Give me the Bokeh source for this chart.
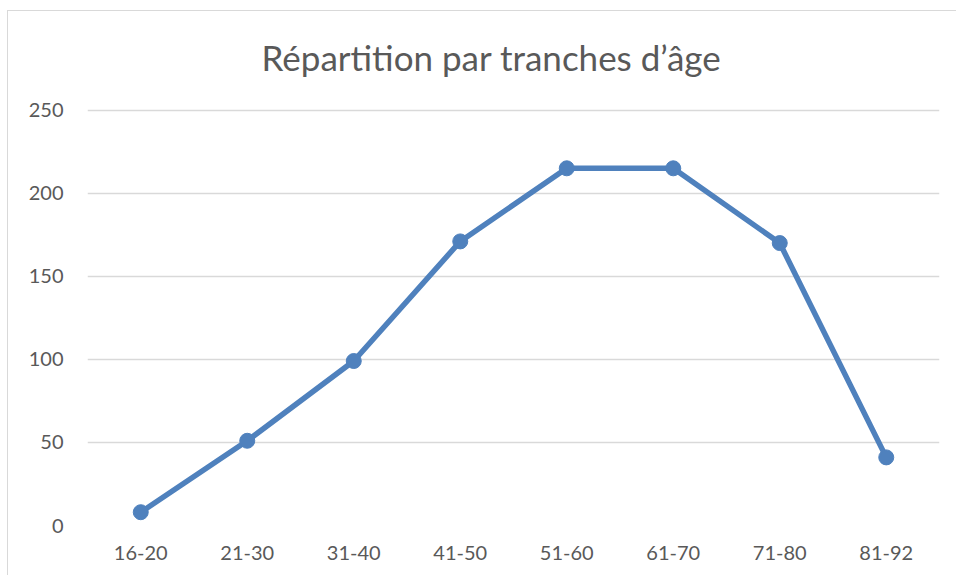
from bokeh.plotting import figure
from bokeh.models import Range1d, FactorRange, Title, FixedTicker
from bokeh.embed import file_html
from bokeh.resources import INLINE

categories = ["16-20", "21-30", "31-40", "41-50", "51-60", "61-70", "71-80", "81-92"]
counts = [8, 51, 99, 171, 215, 215, 170, 41]
y_ticks = [0, 50, 100, 150, 200, 250]

FONT = "Lato"
GREY = "#595959"
BLUE = "#4F81BD"

p = figure(width=956, height=575, output_backend="svg", toolbar_location=None,
           x_range=FactorRange(*categories, range_padding=0),
           y_range=Range1d(0, 251),
           min_border_left=87, min_border_right=17, min_border_top=108, min_border_bottom=50)
p.title = None
t = Title(text="Répartition par tranches d’âge", text_font=FONT, text_font_size="35px",
          text_color=GREY, text_font_style="normal", align="left", offset=174, standoff=61)
p.add_layout(t, "above")

p.outline_line_color = None
p.background_fill_color = "white"
p.border_fill_alpha = 0
p.styles = {"background": "linear-gradient(#d9d9d9,#d9d9d9) 7px 10px / 1px 100% no-repeat, "
                          "linear-gradient(#d9d9d9,#d9d9d9) 7px 10px / 100% 1px no-repeat, white"}

p.xgrid.grid_line_color = None
p.ygrid.grid_line_color = "#d9d9d9"
p.ygrid.grid_line_width = 1.5
p.yaxis.ticker = FixedTicker(ticks=y_ticks)

for ax in (p.xaxis[0], p.yaxis[0]):
    ax.axis_line_color = None
    ax.major_tick_line_color = None
    ax.minor_tick_line_color = None
    ax.major_label_text_font = FONT
    ax.major_label_text_font_size = "20px"
    ax.major_label_text_color = GREY
p.yaxis.major_label_standoff = 18
p.xaxis.major_label_standoff = 14

p.line(categories, counts, line_color=BLUE, line_width=5.5, line_join="round")
p.scatter(categories, counts, size=15, fill_color=BLUE, line_color=BLUE)

open("out.html", "w").write(file_html(p, INLINE))
